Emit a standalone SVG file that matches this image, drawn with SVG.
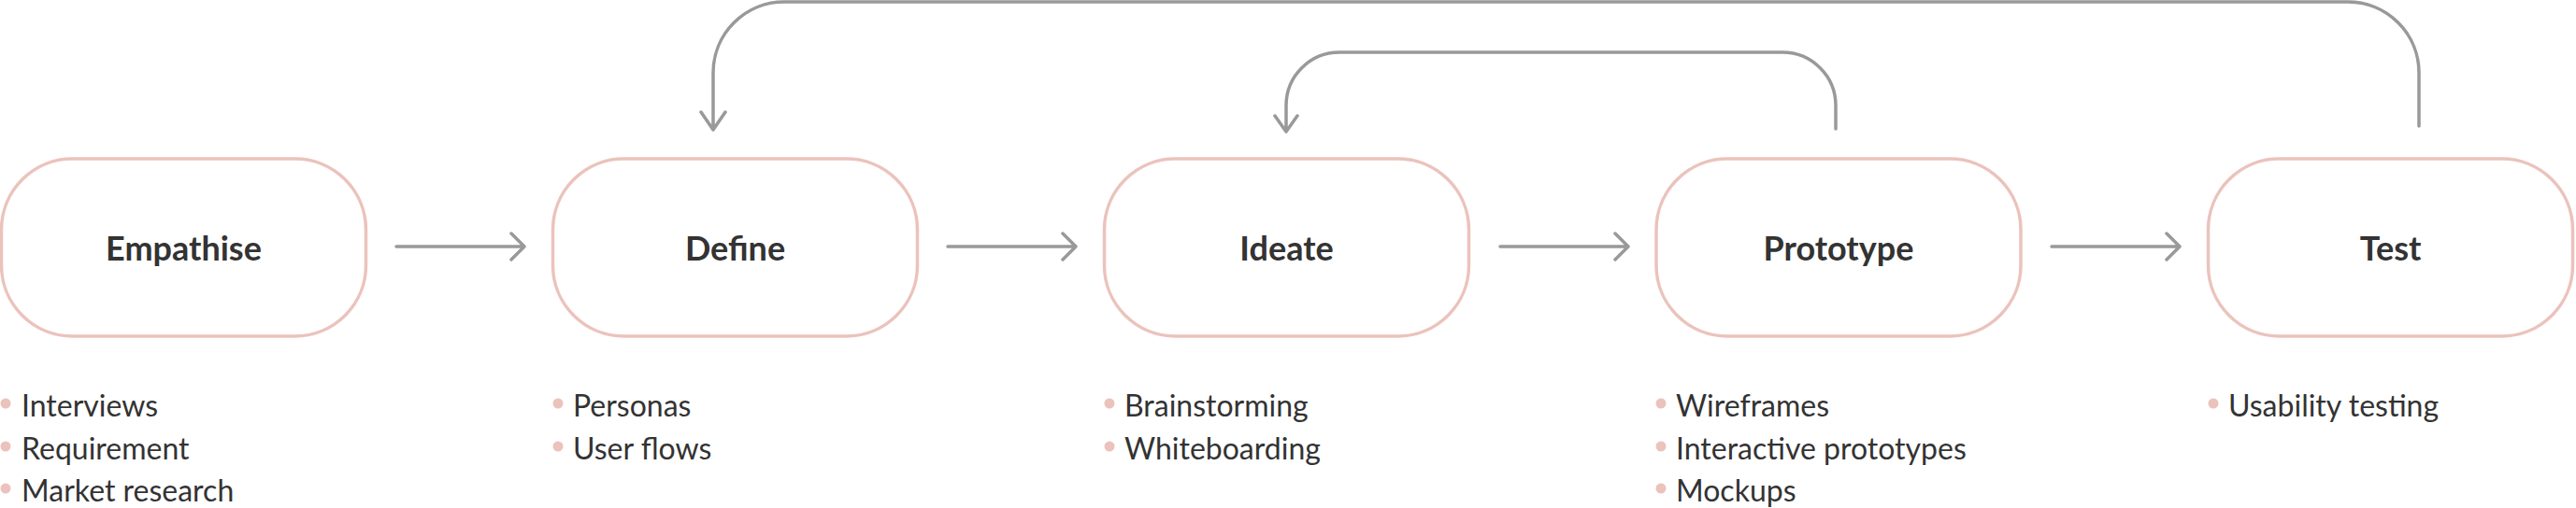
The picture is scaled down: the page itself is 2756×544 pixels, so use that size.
<svg xmlns="http://www.w3.org/2000/svg" width="2756" height="544" viewBox="0 0 2756 544">
<style>
.box{fill:#fff;stroke:#ebc3bc;stroke-width:3.5}
.lbl{font-family:Lato,"Open Sans","Liberation Sans",sans-serif;font-weight:700;font-size:36px;fill:#333;text-anchor:middle}
.item{font-family:Lato,"Open Sans","Liberation Sans",sans-serif;font-size:32px;fill:#333}
.dot{fill:#ebc3bc}
.conn{fill:none;stroke:#999;stroke-width:3.5;stroke-linecap:round;stroke-linejoin:round}
</style>
<rect width="2756" height="544" fill="#fff"/>
<g id="connectors">
<path class="conn" d="M424 264H561M547 250L561 264L547 278"/>
<path class="conn" d="M1014 264H1151M1137 250L1151 264L1137 278"/>
<path class="conn" d="M1605 264H1742M1728 250L1742 264L1728 278"/>
<path class="conn" d="M2195 264H2332M2318 250L2332 264L2318 278"/>
<path class="conn" d="M2588 135V78A76 76 0 0 0 2512 2H839A76 76 0 0 0 763 78V139M750 120L763 139L776 120"/>
<path class="conn" d="M1964 138V113A57 57 0 0 0 1907 56H1433A57 57 0 0 0 1376 113V141M1364 124L1376 141L1388 124"/>
</g>
<g id="empathise">
<rect class="box" x="1.5" y="170" width="390" height="190" rx="76"/>
<text class="lbl" x="196.5" y="279">Empathise</text>
<circle class="dot" cx="6" cy="432" r="5.5"/><text class="item" x="23" y="446">Interviews</text>
<circle class="dot" cx="6" cy="478" r="5.5"/><text class="item" x="23" y="492">Requirement</text>
<circle class="dot" cx="6" cy="523" r="5.5"/><text class="item" x="23" y="537">Market research</text>
</g>
<g id="define">
<rect class="box" x="591.5" y="170" width="390" height="190" rx="76"/>
<text class="lbl" x="786.5" y="279">Define</text>
<circle class="dot" cx="597" cy="432" r="5.5"/><text class="item" x="613" y="446">Personas</text>
<circle class="dot" cx="597" cy="478" r="5.5"/><text class="item" x="613" y="492">User flows</text>
</g>
<g id="ideate">
<rect class="box" x="1181.5" y="170" width="390" height="190" rx="76"/>
<text class="lbl" x="1376.5" y="279">Ideate</text>
<circle class="dot" cx="1187" cy="432" r="5.5"/><text class="item" x="1203" y="446">Brainstorming</text>
<circle class="dot" cx="1187" cy="478" r="5.5"/><text class="item" x="1203" y="492">Whiteboarding</text>
</g>
<g id="prototype">
<rect class="box" x="1772" y="170" width="390" height="190" rx="76"/>
<text class="lbl" x="1967" y="279">Prototype</text>
<circle class="dot" cx="1777" cy="432" r="5.5"/><text class="item" x="1793" y="446">Wireframes</text>
<circle class="dot" cx="1777" cy="478" r="5.5"/><text class="item" x="1793" y="492">Interactive prototypes</text>
<circle class="dot" cx="1777" cy="523" r="5.5"/><text class="item" x="1793" y="537">Mockups</text>
</g>
<g id="test">
<rect class="box" x="2362.5" y="170" width="390" height="190" rx="76"/>
<text class="lbl" x="2557.5" y="279">Test</text>
<circle class="dot" cx="2368" cy="432" r="5.5"/><text class="item" x="2384" y="446">Usability testing</text>
</g>
</svg>
